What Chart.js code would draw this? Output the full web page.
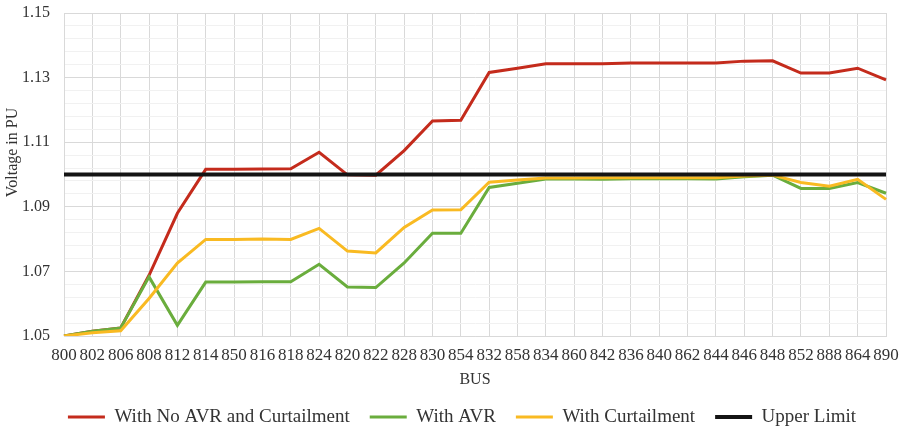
<!DOCTYPE html>
<html>
<head>
<meta charset="utf-8">
<script src="https://cdn.jsdelivr.net/npm/chart.js@4.4.1/dist/chart.umd.min.js"></script>
<style>
  html, body { margin: 0; padding: 0; background: #fff; }
</style>
</head>
<body>
<canvas id="voltageChart" width="902" height="428"></canvas>
<script>
// bus order as it appears along the feeder
const buses = ['800', '802', '806', '808', '812', '814', '850', '816', '818', '824',
    '820', '822', '828', '830', '854', '832', '858', '834', '860', '842',
    '836', '840', '862', '844', '846', '848', '852', '888', '864', '890'];

const noAvrNoCurtailment = [1.0500, 1.0515, 1.0525, 1.0688, 1.0880, 1.1016, 1.1016, 1.1017, 1.1018, 1.1069,
    1.0999, 1.0998, 1.1074, 1.1166, 1.1168, 1.1316, 1.1329, 1.1343, 1.1343, 1.1343,
    1.1345, 1.1345, 1.1345, 1.1345, 1.1351, 1.1352, 1.1314, 1.1314, 1.1329, 1.1293];

const withAvr = [1.0500, 1.0515, 1.0525, 1.0683, 1.0533, 1.0667, 1.0667, 1.0668, 1.0668, 1.0722,
    1.0652, 1.0650, 1.0726, 1.0818, 1.0818, 1.0960, 1.0973, 1.0986, 1.0986, 1.0985,
    1.0987, 1.0987, 1.0987, 1.0986, 1.0993, 1.0998, 1.0957, 1.0957, 1.0975, 1.0942];

const withCurtailment = [1.0500, 1.0510, 1.0516, 1.0616, 1.0726, 1.0799, 1.0799, 1.0800, 1.0799, 1.0833,
    1.0763, 1.0757, 1.0836, 1.0890, 1.0891, 1.0976, 1.0983, 1.0989, 1.0989, 1.0990,
    1.0990, 1.0990, 1.0990, 1.0990, 1.0995, 1.0998, 1.0975, 1.0964, 1.0985, 1.0923];

const upperLimit = [1.10, 1.10, 1.10, 1.10, 1.10, 1.10, 1.10, 1.10, 1.10, 1.10,
    1.10, 1.10, 1.10, 1.10, 1.10, 1.10, 1.10, 1.10, 1.10, 1.10,
    1.10, 1.10, 1.10, 1.10, 1.10, 1.10, 1.10, 1.10, 1.10, 1.10];

const FONT = 'Liberation Serif';
const TEXT = '#333333';

function lineSet(label, data, color, width, order) {
    return {
        label: label,
        data: data,
        borderColor: color,
        backgroundColor: color,
        borderWidth: width,
        pointRadius: 0,
        tension: 0,
        fill: false,
        order: order
    };
}

// legend sits a little right of the default centre in the original
const legendShift = {
    id: 'legendShift',
    afterLayout(chart) {
        chart.legend.left += 19;
        chart.legend.right += 19;
    }
};

new Chart(document.getElementById('voltageChart'), {
    type: 'line',
    data: {
        labels: buses,
        datasets: [
            lineSet('With No AVR and Curtailment', noAvrNoCurtailment, '#C42B1C', 3, 3),
            lineSet('With AVR', withAvr, '#6AAD3D', 3, 2),
            lineSet('With Curtailment', withCurtailment, '#F9BA22', 3, 1),
            lineSet('Upper Limit', upperLimit, '#141414', 4, 0)
        ]
    },
    plugins: [legendShift],
    options: {
        responsive: false,
        animation: false,
        layout: { padding: { top: 13, right: 16, left: 0, bottom: -8.5 } },
        plugins: {
            tooltip: { enabled: false },
            legend: {
                position: 'bottom',
                labels: {
                    usePointStyle: true,
                    pointStyle: 'line',
                    pointStyleWidth: 37,
                    padding: 20,
                    color: TEXT,
                    font: { family: FONT, size: 19 },
                    sort: (a, b) => a.datasetIndex - b.datasetIndex
                }
            }
        },
        scales: {
            x: {
                offset: false,
                afterFit: s => { s.height = 51.5; },
                // invisible tick marks give the label gap without extra side padding
                grid: { color: '#d9d9d9', drawTicks: true, tickLength: 9, tickColor: 'rgba(0,0,0,0)' },
                border: { color: '#d9d9d9' },
                ticks: {
                    autoSkip: false,
                    maxRotation: 0,
                    padding: 0,
                    color: TEXT,
                    font: { family: FONT, size: 17 }
                },
                title: {
                    display: true,
                    text: 'BUS',
                    color: TEXT,
                    padding: { top: 0, bottom: 0 },
                    font: { family: FONT, size: 16, lineHeight: 1 }
                }
            },
            y: {
                min: 1.05,
                max: 1.15,
                afterFit: s => { s.width = 64; },
                grid: {
                    drawTicks: true,
                    tickLength: 14,
                    tickColor: 'rgba(0,0,0,0)',
                    color: ctx => (Math.round(ctx.tick.value * 1000) % 20 === 10 ? '#d9d9d9' : '#f1f1f1')
                },
                border: { color: '#d9d9d9' },
                ticks: {
                    stepSize: 0.004,
                    autoSkip: false,
                    padding: 0,
                    color: TEXT,
                    font: { family: FONT, size: 16 },
                    callback: value => (Math.round(value * 1000) % 20 === 10 ? value.toFixed(2) : '')
                },
                title: {
                    display: true,
                    // leading spaces lift the centred title, as in the original
                    text: '           Voltage in PU',
                    color: TEXT,
                    padding: { top: 5, bottom: 5 },
                    font: { family: FONT, size: 16, lineHeight: 1 }
                }
            }
        }
    }
});
</script>
</body>
</html>
